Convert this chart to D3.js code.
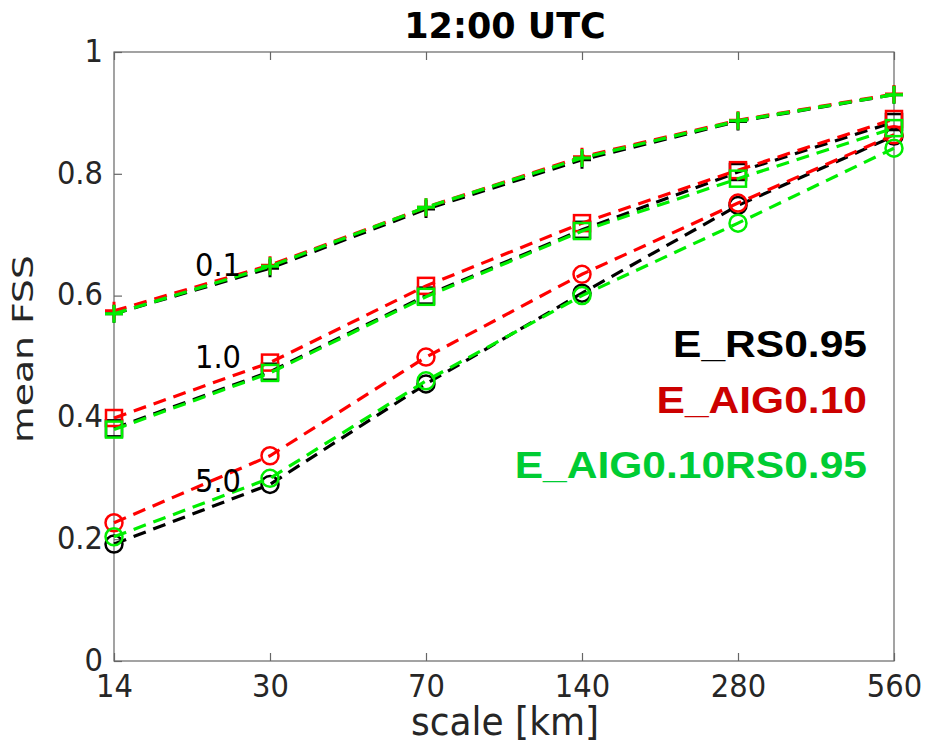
<!DOCTYPE html>
<html lang="en">
<head>
<meta charset="utf-8">
<title>mean FSS 12:00 UTC</title>
<script src="https://cdn.jsdelivr.net/npm/d3@7"></script>
<style>
    body { margin: 0; background: #fff; }
    .axis path, .axis line { stroke: #666; stroke-width: 1.2; }
    .axis text { font-family: "DejaVu Sans", sans-serif; font-size: 29px; fill: #262626; }
</style>
</head>
<body>
<script>
    // ---- data ----
    var scales = ["14", "30", "70", "140", "280", "560"];
    var yTicks = [0, 0.2, 0.4, 0.6, 0.8, 1];
    var thresholds = ["0.1", "1.0", "5.0"];
    var experiments = ["E_RS0.95", "E_AIG0.10", "E_AIG0.10RS0.95"];

    // threshold 0.1 (plus markers)
    var rs_t01   = [0.570, 0.645, 0.742, 0.823, 0.886, 0.930];
    var aig_t01  = [0.575, 0.650, 0.745, 0.828, 0.888, 0.931];
    var both_t01 = [0.570, 0.648, 0.745, 0.826, 0.887, 0.930];
    // threshold 1.0 (squares)
    var rs_t10   = [0.382, 0.475, 0.600, 0.708, 0.803, 0.885];
    var aig_t10  = [0.399, 0.490, 0.616, 0.719, 0.806, 0.890];
    var both_t10 = [0.380, 0.473, 0.598, 0.706, 0.792, 0.875];
    // threshold 5.0 (circles)
    var rs_t50   = [0.192, 0.290, 0.455, 0.604, 0.748, 0.862];
    var aig_t50  = [0.227, 0.337, 0.499, 0.635, 0.752, 0.864];
    var both_t50 = [0.204, 0.300, 0.460, 0.600, 0.719, 0.842];

    var lineColors = ["#000000", "#ff0000", "#00ee00"];
    var legendColors = ["#000000", "#cc0000", "#00cc33"];

    var series = [
        {exp: 0, marker: "plus",   values: rs_t01},
        {exp: 0, marker: "square", values: rs_t10},
        {exp: 0, marker: "circle", values: rs_t50},
        {exp: 1, marker: "plus",   values: aig_t01},
        {exp: 1, marker: "square", values: aig_t10},
        {exp: 1, marker: "circle", values: aig_t50},
        {exp: 2, marker: "plus",   values: both_t01},
        {exp: 2, marker: "square", values: both_t10},
        {exp: 2, marker: "circle", values: both_t50}
    ];

    // ---- layout ----
    var w = 925, h = 751;
    var m = {left: 114, right: 31, top: 52, bottom: 90};
    var textStretch = 1.13; // glyphs in the original are a bit taller than wide

    var svg = d3.select("body").append("svg")
        .attr("width", w).attr("height", h);

    var xScale = d3.scalePoint()
        .domain(scales)
        .range([m.left, w - m.right]);

    var yScale = d3.scaleLinear()
        .domain([0, 1])
        .range([h - m.bottom, m.top]);

    var tickLen = 8;

    // frame
    svg.append("rect")
        .attr("x", m.left).attr("y", m.top)
        .attr("width", w - m.left - m.right)
        .attr("height", h - m.top - m.bottom)
        .attr("fill", "none")
        .attr("stroke", "#666")
        .attr("stroke-width", 1.2);

    var fmt = function(d) { return d === 0 || d === 1 ? String(d) : d.toFixed(1); };

    svg.append("g").attr("class", "axis")
        .attr("transform", "translate(0," + (h - m.bottom) + ")")
        .call(d3.axisBottom(xScale).tickSizeInner(-tickLen).tickSizeOuter(0).tickPadding(11))
        .call(function(g) { g.select(".domain").remove(); })
        .selectAll("text")
        .attr("transform", "scale(1," + textStretch + ")");

    svg.append("g").attr("class", "axis")
        .attr("transform", "translate(0," + m.top + ")")
        .call(d3.axisTop(xScale).tickSizeInner(-tickLen).tickSizeOuter(0).tickFormat(""))
        .call(function(g) { g.select(".domain").remove(); });

    svg.append("g").attr("class", "axis")
        .attr("transform", "translate(" + m.left + ",0)")
        .call(d3.axisLeft(yScale).tickValues(yTicks).tickFormat(fmt)
            .tickSizeInner(-tickLen).tickSizeOuter(0).tickPadding(11))
        .call(function(g) { g.select(".domain").remove(); })
        .selectAll("text")
        .attr("transform", "scale(1," + textStretch + ")")
        .attr("dy", (0.32 / textStretch) + "em");

    // titles
    svg.append("text")
        .attr("x", (m.left + w - m.right) / 2 + 1).attr("y", 38)
        .attr("text-anchor", "middle")
        .attr("font-family", "DejaVu Sans, sans-serif")
        .attr("font-weight", "bold")
        .attr("font-size", "35px")
        .text("12:00 UTC");

    svg.append("text")
        .attr("transform", "translate(" + ((m.left + w - m.right) / 2 + 1) + ",735) scale(1,1.1)")
        .attr("text-anchor", "middle")
        .attr("font-family", "DejaVu Sans, sans-serif")
        .attr("font-size", "36px")
        .attr("fill", "#262626")
        .text("scale [km]");

    svg.append("text")
        .attr("transform", "translate(33,349) rotate(-90) scale(1.3,1)")
        .attr("text-anchor", "middle")
        .attr("font-family", "DejaVu Sans, sans-serif")
        .attr("font-size", "29px")
        .attr("fill", "#262626")
        .text("mean FSS");

    // lines
    var line = d3.line()
        .x(function(d, i) { return xScale(scales[i]); })
        .y(function(d) { return yScale(d); });

    var g = svg.append("g");

    series.forEach(function(s) {
        var col = lineColors[s.exp];
        g.append("path")
            .attr("d", line(s.values))
            .attr("fill", "none")
            .attr("stroke", col)
            .attr("stroke-width", 3.2)
            .attr("stroke-dasharray", "13,8");

        var mk = g.append("g").selectAll("g")
            .data(s.values).enter().append("g")
            .attr("transform", function(d, i) {
                return "translate(" + xScale(scales[i]) + "," + yScale(d) + ")";
            });

        if (s.marker === "plus") {
            mk.append("path")
                .attr("d", "M-9,0H9M0,-9V9")
                .attr("stroke", col).attr("stroke-width", 3).attr("fill", "none");
        } else if (s.marker === "square") {
            mk.append("rect")
                .attr("x", -8).attr("y", -8).attr("width", 16).attr("height", 16)
                .attr("stroke", col).attr("stroke-width", 2.5).attr("fill", "none");
        } else {
            mk.append("circle")
                .attr("r", 8.5)
                .attr("stroke", col).attr("stroke-width", 2.5).attr("fill", "none");
        }
    });

    // threshold labels
    var thrY = [276, 368, 492];
    svg.selectAll(".thr")
        .data(thresholds).enter().append("text")
        .attr("class", "thr")
        .attr("transform", function(d, i) {
            return "translate(218," + thrY[i] + ") scale(1," + textStretch + ")";
        })
        .attr("text-anchor", "middle")
        .attr("font-family", "DejaVu Sans, sans-serif")
        .attr("font-size", "29px")
        .attr("fill", "#000")
        .text(function(d) { return d; });

    // legend
    var legendY = [357, 413, 478];
    svg.selectAll(".leg")
        .data(experiments).enter().append("text")
        .attr("class", "leg")
        .attr("transform", function(d, i) {
            return "translate(867," + legendY[i] + ") scale(1.15,1)";
        })
        .attr("text-anchor", "end")
        .attr("font-family", "Liberation Sans, Arial, sans-serif")
        .attr("font-weight", "bold")
        .attr("font-size", "37px")
        .attr("fill", function(d, i) { return legendColors[i]; })
        .text(function(d) { return d; });
</script>
</body>
</html>
